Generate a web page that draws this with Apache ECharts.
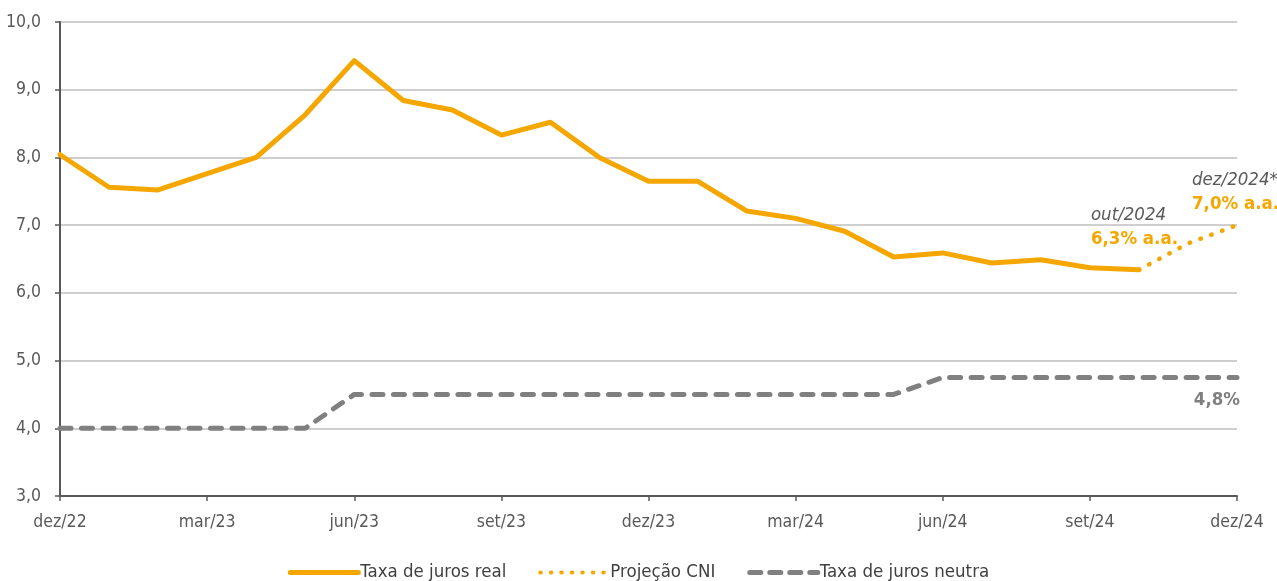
<!DOCTYPE html>
<html>
<head>
<meta charset="utf-8">
<script src="https://cdn.jsdelivr.net/npm/echarts@6/dist/echarts.min.js"></script>
<style>
    html, body {margin: 0; padding: 0; background: #fff;}
    #chart {width: 1277px; height: 581px;}
</style>
</head>
<body>
<div id="chart"></div>
<script type="text/javascript">
    // meses (dez/22 a dez/24)
    var meses = ['dez/22', 'jan/23', 'fev/23', 'mar/23', 'abr/23', 'mai/23', 'jun/23', 'jul/23', 'ago/23',
        'set/23', 'out/23', 'nov/23', 'dez/23', 'jan/24', 'fev/24', 'mar/24', 'abr/24', 'mai/24', 'jun/24',
        'jul/24', 'ago/24', 'set/24', 'out/24', 'nov/24', 'dez/24'];

    // taxa de juros real (% a.a.)
    var jurosReal = [8.04, 7.56, 7.52, 7.76, 8.0, 8.63, 9.43, 8.84, 8.70, 8.33, 8.52, 8.0, 7.65,
        7.65, 7.21, 7.10, 6.91, 6.53, 6.59, 6.44, 6.49, 6.37, 6.34, null, null];

    // projeção CNI
    var projecao = [null, null, null, null, null, null, null, null, null, null, null, null, null,
        null, null, null, null, null, null, null, null, null, 6.34, 6.73, 7.0];

    // taxa de juros neutra
    var jurosNeutra = [4.0, 4.0, 4.0, 4.0, 4.0, 4.0, 4.5, 4.5, 4.5, 4.5, 4.5, 4.5, 4.5,
        4.5, 4.5, 4.5, 4.5, 4.5, 4.75, 4.75, 4.75, 4.75, 4.75, 4.75, 4.75];

    var fonte = "'Liberation Sans Narrow', 'DejaVu Sans Condensed', 'Roboto', sans-serif";
    var laranja = '#F5A700';
    var cinza = '#808080';

    var chart = echarts.init(document.getElementById('chart'));
    chart.setOption({
        animation: false,
        textStyle: {fontFamily: fonte},
        grid: {left: 60, right: 40, top: 22, bottom: 85},
        legend: {
            top: 558,
            left: 'center',
            itemWidth: 68,
            itemHeight: 10,
            itemGap: 32,
            itemStyle: {opacity: 0},
            textStyle: {fontFamily: fonte, fontSize: 18.5, color: '#404040', padding: [0, 0, 0, -3]},
            data: [
                {name: 'Taxa de juros real', lineStyle: {width: 5, color: laranja, type: 'solid', cap: 'round'}},
                {name: 'Projeção CNI', lineStyle: {width: 4, color: laranja, type: [0.5, 10], cap: 'round'}},
                {name: 'Taxa de juros neutra', lineStyle: {width: 5, color: cinza, type: [11, 9], cap: 'round'}}
            ]
        },
        xAxis: {
            type: 'category',
            data: meses,
            boundaryGap: false,
            axisLine: {lineStyle: {color: '#595959', width: 2}},
            axisTick: {show: true, interval: 2, length: 5, lineStyle: {color: '#595959', width: 1.5}},
            axisLabel: {interval: 2, margin: 17, fontSize: 17.5, color: '#595959', fontFamily: fonte},
            splitLine: {show: false}
        },
        yAxis: {
            type: 'value',
            min: 3,
            max: 10,
            interval: 1,
            axisLine: {show: true, lineStyle: {color: '#595959', width: 2}},
            axisTick: {show: true, length: 5, lineStyle: {color: '#595959', width: 1.5}},
            axisLabel: {
                margin: 19, fontSize: 17.5, color: '#595959', fontFamily: fonte,
                formatter: function (v) {
                    return v.toFixed(1).replace('.', ',');
                }
            },
            splitLine: {lineStyle: {color: '#BFBFBF', width: 1.5}}
        },
        series: [
            {
                name: 'Taxa de juros real',
                type: 'line',
                data: jurosReal,
                showSymbol: false,
                symbol: 'none',
                lineStyle: {color: laranja, width: 5, cap: 'round', join: 'round'},
                itemStyle: {color: laranja},
                z: 3,
                markPoint: {
                    symbol: 'circle',
                    symbolSize: 0,
                    silent: true,
                    label: {
                        show: true,
                        position: 'inside',
                        align: 'left',
                        verticalAlign: 'middle',
                        offset: [-48, -43],
                        formatter: '{a|out/2024}\n{b|6,3% a.a.}',
                        rich: {
                            a: {fontFamily: fonte, fontSize: 18.5, fontStyle: 'italic', color: '#595959', lineHeight: 24},
                            b: {fontFamily: fonte, fontSize: 18.5, fontWeight: 'bold', color: laranja, lineHeight: 24}
                        }
                    },
                    data: [{coord: ['out/24', 6.34]}]
                }
            },
            {
                name: 'Projeção CNI',
                type: 'line',
                data: projecao,
                showSymbol: false,
                symbol: 'none',
                lineStyle: {color: laranja, width: 4.5, type: [0.5, 11], cap: 'round'},
                itemStyle: {color: laranja},
                z: 3,
                markPoint: {
                    symbol: 'circle',
                    symbolSize: 0,
                    silent: true,
                    label: {
                        show: true,
                        position: 'inside',
                        align: 'left',
                        verticalAlign: 'middle',
                        offset: [-45, -33],
                        formatter: '{a|dez/2024*}\n{b|7,0% a.a.}',
                        rich: {
                            a: {fontFamily: fonte, fontSize: 18.5, fontStyle: 'italic', color: '#595959', lineHeight: 24},
                            b: {fontFamily: fonte, fontSize: 18.5, fontWeight: 'bold', color: laranja, lineHeight: 24}
                        }
                    },
                    data: [{coord: ['dez/24', 7.0]}]
                }
            },
            {
                name: 'Taxa de juros neutra',
                type: 'line',
                data: jurosNeutra,
                showSymbol: false,
                symbol: 'none',
                lineStyle: {color: cinza, width: 5, type: [11, 10.5], cap: 'round'},
                itemStyle: {color: cinza},
                z: 2,
                markPoint: {
                    symbol: 'circle',
                    symbolSize: 0,
                    silent: true,
                    label: {
                        show: true,
                        position: 'inside',
                        align: 'right',
                        verticalAlign: 'middle',
                        offset: [3, 23],
                        formatter: '4,8%',
                        fontFamily: fonte,
                        fontSize: 18.5,
                        fontWeight: 'bold',
                        color: cinza
                    },
                    data: [{coord: ['dez/24', 4.75]}]
                }
            }
        ]
    });
</script>
</body>
</html>
